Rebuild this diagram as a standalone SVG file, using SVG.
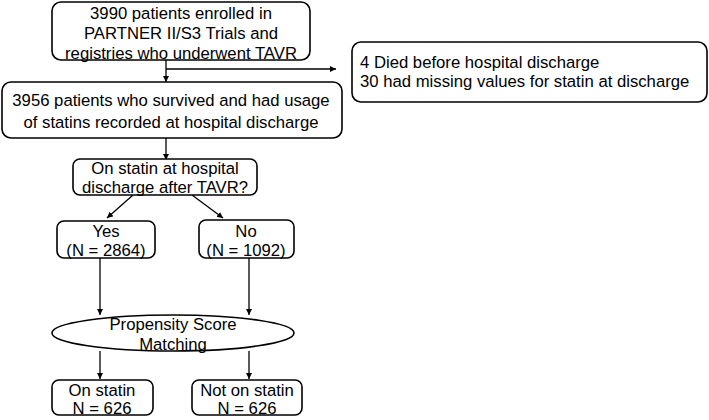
<svg xmlns="http://www.w3.org/2000/svg" width="709" height="420" viewBox="0 0 709 420">
<style>
.box{fill:#fff;stroke:#000;stroke-width:1.6}
.t{font-family:"Liberation Sans",Arial,sans-serif;font-size:16.7px;fill:#000}
.c{text-anchor:middle}
.ln{fill:none;stroke:#000;stroke-width:1.3}
</style>
<defs>
<marker id="ah" viewBox="0 0 10 10" refX="10" refY="5" markerWidth="6" markerHeight="6" markerUnits="userSpaceOnUse" orient="auto">
<path d="M0,0 L10,5 L0,10 z" fill="#000"/>
</marker>
</defs>
<rect width="709" height="420" fill="#fff"/>
<g id="connectors">
<path class="ln" d="M166,60 V82" marker-end="url(#ah)"/>
<path class="ln" d="M166,69 H336" marker-end="url(#ah)"/>
<path class="ln" d="M166,138 V160" marker-end="url(#ah)"/>
<path class="ln" d="M133,195 L107,218" marker-end="url(#ah)"/>
<path class="ln" d="M192,195 L223,218" marker-end="url(#ah)"/>
<path class="ln" d="M100,258 V315" marker-end="url(#ah)"/>
<path class="ln" d="M249,258 V315" marker-end="url(#ah)"/>
<path class="ln" d="M100,351 V379" marker-end="url(#ah)"/>
<path class="ln" d="M249,351 V379" marker-end="url(#ah)"/>
</g>
<g id="n1">
<rect class="box" x="52" y="2" width="258" height="58" rx="9"/>
<text class="t c" x="181" y="19">3990 patients enrolled in</text>
<text class="t c" x="181" y="39">PARTNER II/S3 Trials and</text>
<text class="t c" x="181" y="59">registries who underwent TAVR</text>
</g>
<g id="n2">
<rect class="box" x="352" y="42" width="355" height="60" rx="9"/>
<text class="t" x="360" y="68">4 Died before hospital discharge</text>
<text class="t" x="360" y="87">30 had missing values for statin at discharge</text>
</g>
<g id="n3">
<rect class="box" x="2" y="82" width="340" height="56" rx="9"/>
<text class="t c" x="171" y="106">3956 patients who survived and had usage</text>
<text class="t c" x="171" y="128">of statins recorded at hospital discharge</text>
</g>
<g id="n4">
<rect class="box" x="73" y="159" width="184" height="36" rx="7"/>
<text class="t c" x="165" y="174">On statin at hospital</text>
<text class="t c" x="165" y="193">discharge after TAVR?</text>
</g>
<g id="n5">
<rect class="box" x="57" y="221" width="98" height="37" rx="7"/>
<text class="t c" x="106" y="237">Yes</text>
<text class="t c" x="106" y="256">(N = 2864)</text>
</g>
<g id="n6">
<rect class="box" x="199" y="220" width="95" height="38" rx="7"/>
<text class="t c" x="246" y="237">No</text>
<text class="t c" x="246" y="256">(N = 1092)</text>
</g>
<g id="n7">
<ellipse class="box" cx="173" cy="333" rx="121" ry="18"/>
<text class="t c" x="173" y="330">Propensity Score</text>
<text class="t c" x="173" y="350">Matching</text>
</g>
<g id="n8">
<rect class="box" x="52" y="380" width="101" height="35" rx="7"/>
<text class="t c" x="102" y="396">On statin</text>
<text class="t c" x="102" y="414">N = 626</text>
</g>
<g id="n9">
<rect class="box" x="192" y="380" width="110" height="35" rx="7"/>
<text class="t c" x="247" y="396">Not on statin</text>
<text class="t c" x="247" y="414">N = 626</text>
</g>
</svg>
